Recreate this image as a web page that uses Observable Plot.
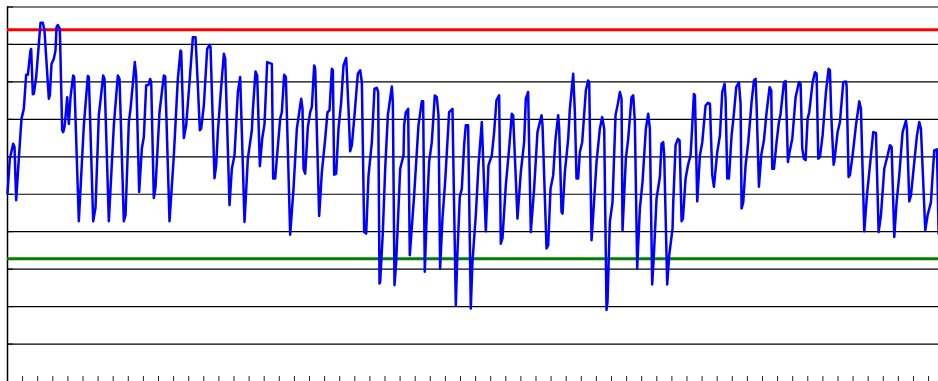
<!DOCTYPE html>
<html><head><meta charset="utf-8">
<script src="https://cdn.jsdelivr.net/npm/d3@7"></script>
<script src="https://cdn.jsdelivr.net/npm/@observablehq/plot@0.6"></script>
<style>html,body{margin:0;padding:0;background:#fff;overflow:hidden}</style>
</head><body><div id="chart"></div>
<script>
const days = [
0,1.08,2.63,3.25,4.02,5.25,6.49,7.57,8.65,9.43,10.66,10.97,11.74,12.21,13.29,14.22,15.30,16.38,17.15,19.16,19.63,20.4,21.48,22.25,22.72,23.34,24.26,25.35,25.81,26.43,26.89,27.66,28.44,29.21,30.44,30.91,33.07,35.39,37.25,37.71,39.72,40.80,42.34,43.12,44.35,44.97,46.98,49.30,51.15,51.93,53.93,54.71,56.25,57.03,59.03,
59.65,61.04,62.28,63.21,64.29,65.37,66.14,66.61,67.84,68.62,70.47,72.48,73.10,75.11,77.12,78.97,80.21,80.52,81.75,82.83,84.38,85.92,87.16,88.24,89.17,89.79,91.02,92.57,93.65,94.12,95.97,96.74,97.52,98.75,100.30,100.92,102.92,104.01,105.24,106.79,107.87,109.88,111.42,113.28,113.74,114.98,115.75,116.99,118.07,119.15,120.39,
122.55,123.16,124.09,124.86,126.41,127.18,128.26,129.04,131.05,132.59,134.14,136.15,136.76,137.23,138.0,139.24,140.32,141.09,142.17,142.64,144.49,145.73,147.27,148.35,149.28,150.36,150.83,151.44,152.37,153.45,154.69,155.77,157.01,158.09,158.86,159.64,160.87,162.42,163.50,164.27,165.35,166.28,167.36,168.91,170.14,171.23,171.84,172.46,172.77,174.0,175.09,176.33,178.18,178.64,179.42,180.19,182.04,183.59,
183.87,184.65,185.73,186.5,188.51,190.52,192.06,192.68,193.45,194.23,195.46,196.70,198.09,199.02,199.79,200.56,201.64,202.88,204.74,206.28,207.83,208.60,209.68,210.61,211.69,212.46,213.54,214.78,215.55,217.10,218.34,219.88,221.74,222.97,224.52,225.60,226.68,227.92,228.69,229.46,231.01,232.55,233.79,234.41,236.42,237.96,239.51,240.28,241.36,242.60,244.14,245.69,
247.57,248.03,249.89,250.66,251.74,252.98,254.06,255.3,255.76,256.84,257.3,258.39,259.93,260.70,262.25,263.02,263.79,264.57,265.34,266.42,268.12,269.20,269.67,270.75,271.52,273.07,274.61,275.69,276.62,277.70,278.16,279.24,280.48,281.88,283.11,283.89,284.66,285.12,286.67,287.75,289.29,290.07,290.84,291.92,293.16,294.39,295.94,297.02,297.79,298.87,299.65,300.88,302.43,303.20,303.98,304.44,305.83,306.76,308.30,
308.64,309.72,310.80,311.57,312.5,313.12,314.35,315.44,316.67,317.45,318.22,318.68,319.76,321.0,322.08,323.63,324.71,325.64,326.72,327.49,329.04,330.27,331.35,332.43,332.9,333.67,334.44,335.68,336.76,337.84,339.08,339.85,340.32,341.09,342.17,343.41,344.95,346.04,346.81,347.27,348.35,349.43,350.67,351.91,353.30,354.07,354.53,355.31,356.54,357.63,358.40,359.94,360.72,361.80,362.57,363.81,365.35,366.90,367.67,368.44,369.22,369.99,
370.92,371.69,373.24,374.32,375.09,375.86,376.64,377.87,379.42,380.65,381.27,381.89,382.97,383.28,384.83,385.91,387.45,388.69,388.99,389.93,390.54,391.78,393.33,394.87,395.64,397.19,398.43,399.97,401.36,402.60,403.84,404.92,406.46,408.01,409.09,409.86,411.10,412.18,413.42,414.96,416.51,416.97,418.05,418.83,420.06,421.61,422.69,423.46,425.47,426.55,428.10,428.87,429.64,430.88,431.65
];
const levels = [
50.2,59.5,63.5,62.6,48.4,59.5,70.2,72.8,81.9,81.9,88.4,88.8,76.7,76.8,81.3,87.9,95.8,95.8,93.7,75.5,76.4,84.8,86.2,88.4,94.6,95.2,94.2,67.1,66.6,68.0,70.6,75.9,68.8,75.9,81.7,81.3,42.8,68.4,81.6,81.3,42.8,46.4,71.1,75.1,81.7,80.8,42.8,68.4,81.7,80.8,42.8,44.4,69.3,72.8,85.3,
81.7,50.6,62.2,65.3,79.1,79.2,80.8,79.9,49.0,51.9,71.9,81.7,81.5,42.8,60.4,80.8,88.4,88.1,65.0,68.4,79.9,91.9,91.9,79.1,67.1,67.5,73.7,88.8,89.9,89.3,54.3,57.7,66.6,76.4,87.5,86.2,47.1,56.8,60.4,77.3,81.3,42.6,59.5,67.1,72.4,82.8,81.7,57.5,64.8,68.8,85.3,
84.8,54.2,54.2,59.5,70.2,71.9,81.9,81.3,39.2,51.5,67.5,75.5,72.8,56.8,55.5,68.0,71.9,73.3,84.4,83.5,44.2,55.9,64.8,71.9,72.4,83.5,83.1,55.2,55.5,67.5,74.6,84.4,86.4,72.8,61.5,63.1,71.1,82.2,83.1,79.9,39.9,39.5,55.0,63.9,78.2,78.4,77.3,26.2,26.6,39.9,56.8,71.1,78.8,74.6,25.7,31.9,56.8,60.4,
68.4,71.9,72.8,33.7,49.7,68.4,74.8,74.8,29.3,42.6,58.6,63.9,76.4,75.9,71.1,30.2,43.5,53.3,71.9,72.8,20.4,34.6,49.3,51.5,63.1,68.4,68.4,19.5,31.9,44.4,57.7,69.3,40.1,57.7,60.4,66.6,75.1,76.4,36.8,38.2,52.4,62.2,71.5,71.1,43.5,55.9,63.9,75.5,77.3,39.9,51.5,66.6,
71.1,68.4,35.5,36.4,51.5,55.1,64.8,71.1,67.5,45.3,44.8,55.9,64.8,72.8,82.2,71.9,54.2,54.2,61.3,63.9,77.7,80.4,79.9,37.7,44.4,58.6,67.5,70.6,67.5,19.1,21.3,42.6,47.9,71.1,74.6,77.3,75.5,40.4,59.5,64.8,75.9,76.4,69.3,30.2,46.2,53.3,67.5,71.5,67.5,25.9,33.7,48.8,54.6,63.5,63.9,60.4,25.9,33.7,40.8,
47.9,63.1,64.8,64.4,42.8,43.5,54.2,57.7,60.4,68.4,76.8,76.4,48.1,60.4,63.9,73.7,74.4,74.2,55.1,52.0,61.3,65.7,77.3,79.5,75.5,54.2,54.2,65.7,71.5,78.6,79.9,74.2,46.2,47.9,57.7,63.9,74.6,80.4,80.8,73.7,52.0,60.4,64.4,71.9,78.6,77.7,56.8,56.8,63.9,69.3,71.5,79.9,80.2,58.6,61.3,64.8,75.9,79.9,79.5,62.2,59.5,59.1,
70.2,71.9,79.9,82.6,82.2,59.5,59.9,65.7,77.3,83.5,83.1,71.1,57.9,58.6,66.6,69.3,79.9,80.1,79.1,54.6,55.1,60.4,68.4,74.8,72.8,40.1,49.7,58.6,66.6,66.4,39.9,44.4,56.8,60.4,63.1,62.6,38.6,47.9,55.1,66.6,69.7,67.5,48.1,49.7,56.8,65.7,69.3,67.5,40.4,44.4,47.9,55.1,61.7,62.0,39.5
];
const upperLimit = 93.9;
const lowerLimit = 32.8;
const gridValues = [10,20,30,40,50,60,70,80,90,100];
const weekTicks = d3.range(0, 432, 7);

const series = days.map((d, i) => ({day: d, level: levels[i]}));

const chart = Plot.plot({
  width: 938,
  height: 381,
  marginTop: 6.5,
  marginRight: 0,
  marginBottom: 0,
  marginLeft: 7,
  style: {background: "#fff"},
  x: {domain: [0, 431.6], axis: null},
  y: {domain: [0, 100], axis: null},
  marks: [
    Plot.gridY(gridValues, {stroke: "#000", strokeOpacity: 1, strokeWidth: 1.2}),
    Plot.axisY(gridValues, {anchor: "left", tickSize: -6, tickFormat: () => "", label: null, stroke: "#000"}),
    Plot.axisX(weekTicks, {anchor: "bottom", tickSize: -5, tickFormat: () => "", label: null, stroke: "#222"}),
    Plot.ruleX([0], {stroke: "#000", strokeWidth: 1.5}),
    Plot.ruleY([upperLimit], {stroke: "#ff0000", strokeWidth: 3}),
    Plot.ruleY([lowerLimit], {stroke: "#008000", strokeWidth: 3}),
    Plot.line(series, {x: "day", y: "level", stroke: "#0000ff", strokeWidth: 2.5, strokeLinejoin: "round"})
  ]
});
document.getElementById("chart").appendChild(chart);
</script>
</body></html>
